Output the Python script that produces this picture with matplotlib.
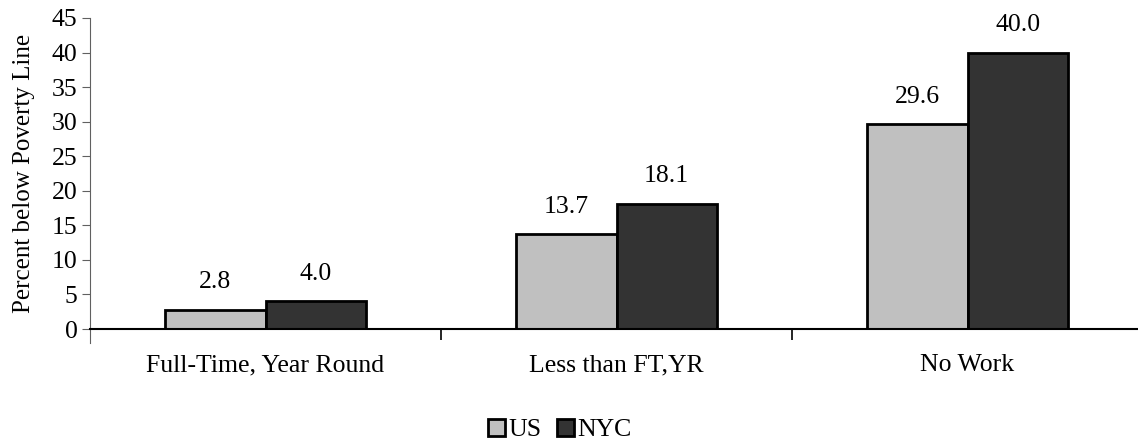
import matplotlib.pyplot as plt
import numpy as np

plt.rcParams['font.family'] = ['Liberation Serif', 'DejaVu Serif']

categories = ['Full-Time, Year Round', 'Less than FT,YR', 'No Work']
us = [2.8, 13.7, 29.6]
nyc = [4.0, 18.1, 40.0]

fig = plt.figure(figsize=(11.38, 4.42), dpi=100)
ax = fig.add_axes([90/1138, 113/442, 1053/1138, 311/442])

x = np.arange(len(categories))
w = 1/3.5
b1 = ax.bar(x - w/2, us, w, color='#c0c0c0', edgecolor='black', linewidth=2, label='US')
b2 = ax.bar(x + w/2, nyc, w, color='#333333', edgecolor='black', linewidth=2, label='NYC')

for bars, vals in [(b1, us), (b2, nyc)]:
    for r, v in zip(bars, vals):
        ax.annotate(f'{v:.1f}', (r.get_x() + r.get_width()/2, v), xytext=(0, 12),
                    textcoords='offset points', ha='center', va='bottom', fontsize=18.5)

ax.set_xlim(-0.5, 2.5)
ax.set_ylim(0, 45)
ax.set_yticks(range(0, 46, 5))
ax.set_xticks(x)
ax.set_xticklabels(categories, fontsize=18.5)
ax.set_xticks([0.5, 1.5], minor=True)
ax.tick_params(axis='x', which='major', length=0, pad=18)
ax.tick_params(axis='x', which='minor', length=8, width=1.2, color='black')
ax.tick_params(axis='y', labelsize=18.5, length=6, color='#606060', pad=3)
ax.set_ylabel('Percent below Poverty Line', fontsize=18, labelpad=12)

for s in ['top', 'right']:
    ax.spines[s].set_visible(False)
ax.spines['left'].set_color('#606060')
ax.spines['bottom'].set_color('black')
ax.spines['bottom'].set_linewidth(1.5)
ax.spines['left'].set_bounds(-2, 45)
ax.spines['left'].set_clip_on(False)

fig.legend(handles=[b1, b2], loc='center', bbox_to_anchor=(560/1138, 1 - 430/442),
           ncol=2, frameon=False, fontsize=18.5, handlelength=0.65, handleheight=0.65,
           handletextpad=0.15, columnspacing=0.6, borderaxespad=0)

fig.savefig('out.png', dpi=100)
